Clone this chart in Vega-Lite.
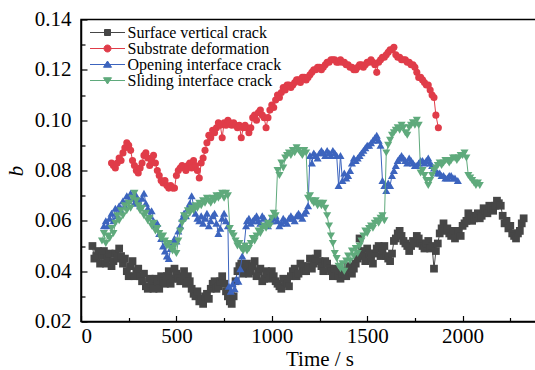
{
  "$schema": "https://vega.github.io/schema/vega-lite/v6.json",
  "autosize": {"type": "none"},
  "padding": {"left": 81, "top": 19.5, "right": 0, "bottom": 48.5},
  "width": 477,
  "height": 302,
  "background": "white",
  "datasets": {
    "surface": [
      {"t":60,"b":0.050},{"t":70,"b":0.045},{"t":80,"b":0.046},{"t":90,"b":0.048},{"t":100,"b":0.043},{"t":110,"b":0.046},{"t":120,"b":0.048},{"t":130,"b":0.043},{"t":140,"b":0.045},{"t":150,"b":0.047},
      {"t":160,"b":0.042},{"t":170,"b":0.044},{"t":180,"b":0.047},{"t":190,"b":0.045},{"t":200,"b":0.049},{"t":210,"b":0.046},{"t":220,"b":0.043},{"t":230,"b":0.045},{"t":240,"b":0.040},{"t":250,"b":0.038},
      {"t":260,"b":0.042},{"t":270,"b":0.044},{"t":280,"b":0.038},{"t":290,"b":0.040},{"t":300,"b":0.041},{"t":310,"b":0.038},{"t":320,"b":0.036},{"t":330,"b":0.039},{"t":340,"b":0.034},{"t":350,"b":0.033},
      {"t":360,"b":0.037},{"t":370,"b":0.035},{"t":380,"b":0.033},{"t":390,"b":0.037},{"t":400,"b":0.036},{"t":410,"b":0.033},{"t":420,"b":0.038},{"t":430,"b":0.036},{"t":440,"b":0.035},{"t":450,"b":0.038},
      {"t":460,"b":0.040},{"t":470,"b":0.035},{"t":480,"b":0.037},{"t":490,"b":0.041},{"t":500,"b":0.039},{"t":510,"b":0.037},{"t":520,"b":0.036},{"t":530,"b":0.038},{"t":540,"b":0.040},{"t":550,"b":0.035},
      {"t":560,"b":0.038},{"t":570,"b":0.036},{"t":580,"b":0.033},{"t":590,"b":0.031},{"t":600,"b":0.030},{"t":610,"b":0.032},{"t":620,"b":0.028},{"t":630,"b":0.029},{"t":640,"b":0.027},{"t":650,"b":0.030},
      {"t":660,"b":0.031},{"t":670,"b":0.029},{"t":680,"b":0.033},{"t":690,"b":0.035},{"t":700,"b":0.036},{"t":710,"b":0.033},{"t":720,"b":0.034},{"t":730,"b":0.036},{"t":740,"b":0.038},{"t":750,"b":0.035},
      {"t":760,"b":0.032},{"t":770,"b":0.030},{"t":780,"b":0.028},{"t":790,"b":0.027},{"t":800,"b":0.030},{"t":810,"b":0.036},{"t":820,"b":0.040},{"t":830,"b":0.042},{"t":840,"b":0.043},{"t":850,"b":0.039},
      {"t":860,"b":0.041},{"t":870,"b":0.043},{"t":880,"b":0.039},{"t":890,"b":0.040},{"t":900,"b":0.042},{"t":910,"b":0.044},{"t":920,"b":0.038},{"t":930,"b":0.040},{"t":940,"b":0.041},{"t":950,"b":0.036},
      {"t":960,"b":0.037},{"t":970,"b":0.040},{"t":980,"b":0.039},{"t":990,"b":0.037},{"t":1000,"b":0.040},{"t":1010,"b":0.038},{"t":1020,"b":0.036},{"t":1030,"b":0.035},{"t":1040,"b":0.034},{"t":1050,"b":0.033},
      {"t":1060,"b":0.037},{"t":1070,"b":0.036},{"t":1080,"b":0.035},{"t":1090,"b":0.034},{"t":1100,"b":0.038},{"t":1110,"b":0.040},{"t":1120,"b":0.041},{"t":1130,"b":0.038},{"t":1140,"b":0.039},{"t":1150,"b":0.043},
      {"t":1160,"b":0.042},{"t":1170,"b":0.040},{"t":1180,"b":0.040},{"t":1190,"b":0.042},{"t":1200,"b":0.045},{"t":1210,"b":0.041},{"t":1220,"b":0.043},{"t":1230,"b":0.045},{"t":1240,"b":0.047},{"t":1250,"b":0.044},
      {"t":1260,"b":0.042},{"t":1270,"b":0.040},{"t":1280,"b":0.044},{"t":1290,"b":0.043},{"t":1300,"b":0.041},{"t":1310,"b":0.040},{"t":1320,"b":0.038},{"t":1330,"b":0.041},{"t":1340,"b":0.040},{"t":1350,"b":0.038},
      {"t":1360,"b":0.037},{"t":1370,"b":0.039},{"t":1380,"b":0.040},{"t":1390,"b":0.038},{"t":1400,"b":0.042},{"t":1410,"b":0.041},{"t":1420,"b":0.039},{"t":1430,"b":0.041},{"t":1440,"b":0.043},{"t":1450,"b":0.045},
      {"t":1460,"b":0.053},{"t":1470,"b":0.048},{"t":1480,"b":0.046},{"t":1490,"b":0.044},{"t":1500,"b":0.049},{"t":1510,"b":0.047},{"t":1520,"b":0.045},{"t":1530,"b":0.043},{"t":1540,"b":0.047},{"t":1550,"b":0.049},
      {"t":1560,"b":0.050},{"t":1570,"b":0.046},{"t":1580,"b":0.048},{"t":1590,"b":0.050},{"t":1600,"b":0.046},{"t":1610,"b":0.045},{"t":1620,"b":0.044},{"t":1630,"b":0.047},{"t":1640,"b":0.052},{"t":1650,"b":0.053},
      {"t":1660,"b":0.055},{"t":1670,"b":0.056},{"t":1680,"b":0.054},{"t":1690,"b":0.052},{"t":1700,"b":0.051},{"t":1710,"b":0.050},{"t":1720,"b":0.048},{"t":1730,"b":0.050},{"t":1740,"b":0.052},{"t":1750,"b":0.051},
      {"t":1760,"b":0.054},{"t":1770,"b":0.053},{"t":1780,"b":0.051},{"t":1790,"b":0.050},{"t":1800,"b":0.049},{"t":1810,"b":0.051},{"t":1820,"b":0.052},{"t":1830,"b":0.049},{"t":1840,"b":0.050},{"t":1850,"b":0.041},
      {"t":1860,"b":0.048},{"t":1870,"b":0.051},{"t":1880,"b":0.055},{"t":1890,"b":0.057},{"t":1900,"b":0.059},{"t":1910,"b":0.056},{"t":1920,"b":0.057},{"t":1930,"b":0.055},{"t":1940,"b":0.054},{"t":1950,"b":0.056},
      {"t":1960,"b":0.053},{"t":1970,"b":0.055},{"t":1980,"b":0.056},{"t":1990,"b":0.054},{"t":2000,"b":0.058},{"t":2010,"b":0.059},{"t":2020,"b":0.060},{"t":2030,"b":0.063},{"t":2040,"b":0.062},{"t":2050,"b":0.060},
      {"t":2060,"b":0.061},{"t":2070,"b":0.062},{"t":2080,"b":0.063},{"t":2090,"b":0.061},{"t":2100,"b":0.062},{"t":2110,"b":0.065},{"t":2120,"b":0.064},{"t":2130,"b":0.063},{"t":2140,"b":0.066},{"t":2150,"b":0.065},
      {"t":2160,"b":0.064},{"t":2170,"b":0.066},{"t":2180,"b":0.068},{"t":2190,"b":0.067},{"t":2200,"b":0.066},{"t":2210,"b":0.062},{"t":2220,"b":0.059},{"t":2230,"b":0.060},{"t":2240,"b":0.057},{"t":2250,"b":0.058},
      {"t":2260,"b":0.055},{"t":2270,"b":0.054},{"t":2280,"b":0.053},{"t":2290,"b":0.055},{"t":2300,"b":0.056},{"t":2310,"b":0.059},{"t":2320,"b":0.061}
    ],
    "substrate": [
      {"t":160,"b":0.083},{"t":170,"b":0.082},{"t":180,"b":0.081},{"t":190,"b":0.083},{"t":200,"b":0.085},{"t":210,"b":0.084},{"t":220,"b":0.087},{"t":230,"b":0.089},{"t":240,"b":0.091},{"t":250,"b":0.090},
      {"t":260,"b":0.088},{"t":270,"b":0.084},{"t":280,"b":0.082},{"t":290,"b":0.080},{"t":300,"b":0.079},{"t":310,"b":0.081},{"t":320,"b":0.083},{"t":330,"b":0.086},{"t":340,"b":0.087},{"t":350,"b":0.085},
      {"t":360,"b":0.082},{"t":370,"b":0.084},{"t":380,"b":0.086},{"t":390,"b":0.083},{"t":400,"b":0.080},{"t":410,"b":0.078},{"t":420,"b":0.076},{"t":430,"b":0.075},{"t":440,"b":0.076},{"t":450,"b":0.074},
      {"t":460,"b":0.073},{"t":470,"b":0.074},{"t":480,"b":0.073},{"t":490,"b":0.073},{"t":500,"b":0.078},{"t":510,"b":0.080},{"t":520,"b":0.081},{"t":530,"b":0.082},{"t":540,"b":0.081},{"t":550,"b":0.080},
      {"t":560,"b":0.082},{"t":570,"b":0.083},{"t":580,"b":0.081},{"t":590,"b":0.084},{"t":600,"b":0.082},{"t":610,"b":0.080},{"t":620,"b":0.077},{"t":630,"b":0.083},{"t":640,"b":0.085},{"t":650,"b":0.088},
      {"t":660,"b":0.091},{"t":670,"b":0.094},{"t":680,"b":0.093},{"t":690,"b":0.096},{"t":700,"b":0.095},{"t":710,"b":0.097},{"t":720,"b":0.099},{"t":730,"b":0.098},{"t":740,"b":0.093},{"t":750,"b":0.099},
      {"t":760,"b":0.098},{"t":770,"b":0.100},{"t":780,"b":0.099},{"t":790,"b":0.098},{"t":800,"b":0.099},{"t":810,"b":0.098},{"t":820,"b":0.097},{"t":830,"b":0.098},{"t":840,"b":0.093},{"t":850,"b":0.097},
      {"t":860,"b":0.098},{"t":870,"b":0.097},{"t":880,"b":0.095},{"t":890,"b":0.097},{"t":900,"b":0.101},{"t":910,"b":0.102},{"t":920,"b":0.100},{"t":930,"b":0.103},{"t":940,"b":0.104},{"t":950,"b":0.102},
      {"t":960,"b":0.101},{"t":970,"b":0.097},{"t":980,"b":0.101},{"t":990,"b":0.104},{"t":1000,"b":0.106},{"t":1010,"b":0.105},{"t":1020,"b":0.108},{"t":1030,"b":0.110},{"t":1040,"b":0.109},{"t":1050,"b":0.111},
      {"t":1060,"b":0.113},{"t":1070,"b":0.112},{"t":1080,"b":0.114},{"t":1090,"b":0.114},{"t":1100,"b":0.113},{"t":1110,"b":0.114},{"t":1120,"b":0.115},{"t":1130,"b":0.116},{"t":1140,"b":0.116},{"t":1150,"b":0.115},
      {"t":1160,"b":0.117},{"t":1170,"b":0.117},{"t":1180,"b":0.116},{"t":1190,"b":0.117},{"t":1200,"b":0.118},{"t":1210,"b":0.119},{"t":1220,"b":0.120},{"t":1230,"b":0.120},{"t":1240,"b":0.121},{"t":1250,"b":0.121},
      {"t":1260,"b":0.120},{"t":1270,"b":0.121},{"t":1280,"b":0.122},{"t":1290,"b":0.123},{"t":1300,"b":0.123},{"t":1310,"b":0.124},{"t":1320,"b":0.124},{"t":1330,"b":0.124},{"t":1340,"b":0.123},{"t":1350,"b":0.123},
      {"t":1360,"b":0.124},{"t":1370,"b":0.123},{"t":1380,"b":0.123},{"t":1390,"b":0.122},{"t":1400,"b":0.122},{"t":1410,"b":0.121},{"t":1420,"b":0.121},{"t":1430,"b":0.120},{"t":1440,"b":0.120},{"t":1450,"b":0.121},
      {"t":1460,"b":0.122},{"t":1470,"b":0.122},{"t":1480,"b":0.121},{"t":1490,"b":0.122},{"t":1500,"b":0.123},{"t":1510,"b":0.123},{"t":1520,"b":0.124},{"t":1530,"b":0.123},{"t":1540,"b":0.122},{"t":1550,"b":0.119},
      {"t":1560,"b":0.123},{"t":1570,"b":0.124},{"t":1580,"b":0.125},{"t":1590,"b":0.125},{"t":1600,"b":0.126},{"t":1610,"b":0.127},{"t":1620,"b":0.128},{"t":1630,"b":0.128},{"t":1640,"b":0.129},{"t":1650,"b":0.126},
      {"t":1660,"b":0.125},{"t":1670,"b":0.125},{"t":1680,"b":0.124},{"t":1690,"b":0.124},{"t":1700,"b":0.124},{"t":1710,"b":0.123},{"t":1720,"b":0.123},{"t":1730,"b":0.122},{"t":1740,"b":0.122},{"t":1750,"b":0.121},
      {"t":1760,"b":0.119},{"t":1770,"b":0.117},{"t":1780,"b":0.117},{"t":1790,"b":0.116},{"t":1800,"b":0.115},{"t":1810,"b":0.114},{"t":1820,"b":0.114},{"t":1830,"b":0.112},{"t":1840,"b":0.110},{"t":1850,"b":0.109},
      {"t":1860,"b":0.102},{"t":1873,"b":0.097}
    ],
    "opening": [
      {"t":120,"b":0.058},{"t":130,"b":0.060},{"t":140,"b":0.058},{"t":150,"b":0.061},{"t":160,"b":0.063},{"t":170,"b":0.060},{"t":180,"b":0.065},{"t":190,"b":0.062},{"t":200,"b":0.066},{"t":210,"b":0.064},
      {"t":220,"b":0.068},{"t":230,"b":0.066},{"t":240,"b":0.070},{"t":250,"b":0.068},{"t":260,"b":0.071},{"t":270,"b":0.069},{"t":280,"b":0.067},{"t":290,"b":0.070},{"t":300,"b":0.068},{"t":310,"b":0.066},
      {"t":320,"b":0.069},{"t":330,"b":0.071},{"t":340,"b":0.067},{"t":350,"b":0.065},{"t":360,"b":0.062},{"t":370,"b":0.064},{"t":380,"b":0.060},{"t":390,"b":0.058},{"t":400,"b":0.059},{"t":410,"b":0.055},
      {"t":420,"b":0.053},{"t":430,"b":0.050},{"t":440,"b":0.048},{"t":450,"b":0.046},{"t":460,"b":0.045},{"t":470,"b":0.049},{"t":480,"b":0.051},{"t":490,"b":0.053},{"t":500,"b":0.052},{"t":510,"b":0.056},
      {"t":520,"b":0.058},{"t":530,"b":0.061},{"t":540,"b":0.063},{"t":550,"b":0.062},{"t":560,"b":0.065},{"t":570,"b":0.067},{"t":580,"b":0.070},{"t":590,"b":0.066},{"t":600,"b":0.063},{"t":610,"b":0.061},
      {"t":620,"b":0.060},{"t":630,"b":0.062},{"t":640,"b":0.059},{"t":650,"b":0.061},{"t":660,"b":0.063},{"t":670,"b":0.058},{"t":680,"b":0.060},{"t":690,"b":0.062},{"t":700,"b":0.063},{"t":710,"b":0.059},
      {"t":720,"b":0.055},{"t":730,"b":0.057},{"t":740,"b":0.061},{"t":750,"b":0.063},{"t":760,"b":0.060},{"t":770,"b":0.058},{"t":775,"b":0.034},{"t":785,"b":0.032},{"t":795,"b":0.035},{"t":805,"b":0.033},
      {"t":815,"b":0.037},{"t":825,"b":0.036},{"t":835,"b":0.041},{"t":845,"b":0.046},{"t":855,"b":0.050},{"t":865,"b":0.058},{"t":870,"b":0.060},{"t":880,"b":0.061},{"t":890,"b":0.059},{"t":900,"b":0.060},
      {"t":910,"b":0.061},{"t":920,"b":0.062},{"t":930,"b":0.060},{"t":940,"b":0.059},{"t":950,"b":0.062},{"t":960,"b":0.061},{"t":970,"b":0.059},{"t":980,"b":0.058},{"t":990,"b":0.060},{"t":1000,"b":0.060},
      {"t":1010,"b":0.061},{"t":1020,"b":0.062},{"t":1030,"b":0.060},{"t":1040,"b":0.058},{"t":1050,"b":0.059},{"t":1060,"b":0.061},{"t":1070,"b":0.060},{"t":1080,"b":0.059},{"t":1090,"b":0.061},{"t":1100,"b":0.062},
      {"t":1110,"b":0.061},{"t":1120,"b":0.060},{"t":1130,"b":0.062},{"t":1140,"b":0.063},{"t":1150,"b":0.062},{"t":1160,"b":0.061},{"t":1170,"b":0.063},{"t":1180,"b":0.064},{"t":1190,"b":0.066},{"t":1200,"b":0.086},
      {"t":1210,"b":0.083},{"t":1220,"b":0.087},{"t":1230,"b":0.086},{"t":1240,"b":0.085},{"t":1250,"b":0.087},{"t":1260,"b":0.088},{"t":1270,"b":0.087},{"t":1280,"b":0.086},{"t":1290,"b":0.088},{"t":1300,"b":0.087},
      {"t":1310,"b":0.086},{"t":1320,"b":0.088},{"t":1330,"b":0.087},{"t":1340,"b":0.086},{"t":1350,"b":0.074},{"t":1360,"b":0.086},{"t":1370,"b":0.076},{"t":1380,"b":0.079},{"t":1390,"b":0.077},{"t":1400,"b":0.078},
      {"t":1410,"b":0.080},{"t":1420,"b":0.083},{"t":1430,"b":0.085},{"t":1440,"b":0.084},{"t":1450,"b":0.085},{"t":1460,"b":0.086},{"t":1470,"b":0.087},{"t":1480,"b":0.088},{"t":1490,"b":0.089},{"t":1500,"b":0.090},
      {"t":1510,"b":0.090},{"t":1520,"b":0.091},{"t":1530,"b":0.092},{"t":1540,"b":0.093},{"t":1550,"b":0.094},{"t":1560,"b":0.092},{"t":1570,"b":0.090},{"t":1580,"b":0.076},{"t":1590,"b":0.074},{"t":1600,"b":0.072},
      {"t":1610,"b":0.075},{"t":1620,"b":0.074},{"t":1630,"b":0.078},{"t":1640,"b":0.080},{"t":1650,"b":0.082},{"t":1660,"b":0.084},{"t":1670,"b":0.085},{"t":1680,"b":0.086},{"t":1690,"b":0.085},{"t":1700,"b":0.084},
      {"t":1710,"b":0.083},{"t":1720,"b":0.085},{"t":1730,"b":0.084},{"t":1740,"b":0.083},{"t":1750,"b":0.082},{"t":1760,"b":0.082},{"t":1770,"b":0.083},{"t":1780,"b":0.084},{"t":1790,"b":0.084},{"t":1800,"b":0.083},
      {"t":1810,"b":0.084},{"t":1820,"b":0.085},{"t":1830,"b":0.083},{"t":1840,"b":0.082},{"t":1850,"b":0.081},{"t":1860,"b":0.080},{"t":1870,"b":0.079},{"t":1880,"b":0.079},{"t":1890,"b":0.078},{"t":1900,"b":0.078},
      {"t":1910,"b":0.077},{"t":1920,"b":0.077},{"t":1930,"b":0.078},{"t":1940,"b":0.078},{"t":1950,"b":0.077},{"t":1960,"b":0.077},{"t":1975,"b":0.076}
    ],
    "sliding": [
      {"t":110,"b":0.052},{"t":120,"b":0.055},{"t":130,"b":0.051},{"t":140,"b":0.054},{"t":150,"b":0.053},{"t":160,"b":0.057},{"t":170,"b":0.055},{"t":180,"b":0.059},{"t":190,"b":0.062},{"t":200,"b":0.060},
      {"t":210,"b":0.064},{"t":220,"b":0.062},{"t":230,"b":0.066},{"t":240,"b":0.064},{"t":250,"b":0.067},{"t":260,"b":0.065},{"t":270,"b":0.069},{"t":280,"b":0.071},{"t":290,"b":0.068},{"t":300,"b":0.066},
      {"t":310,"b":0.064},{"t":320,"b":0.065},{"t":330,"b":0.062},{"t":340,"b":0.063},{"t":350,"b":0.060},{"t":360,"b":0.061},{"t":370,"b":0.058},{"t":380,"b":0.059},{"t":390,"b":0.056},{"t":400,"b":0.057},
      {"t":410,"b":0.055},{"t":420,"b":0.053},{"t":430,"b":0.054},{"t":440,"b":0.052},{"t":450,"b":0.050},{"t":460,"b":0.051},{"t":470,"b":0.049},{"t":480,"b":0.048},{"t":490,"b":0.050},{"t":500,"b":0.047},
      {"t":510,"b":0.052},{"t":520,"b":0.056},{"t":530,"b":0.059},{"t":540,"b":0.062},{"t":550,"b":0.061},{"t":560,"b":0.064},{"t":570,"b":0.063},{"t":580,"b":0.065},{"t":590,"b":0.064},{"t":600,"b":0.066},
      {"t":610,"b":0.065},{"t":620,"b":0.067},{"t":630,"b":0.066},{"t":640,"b":0.068},{"t":650,"b":0.067},{"t":660,"b":0.069},{"t":670,"b":0.068},{"t":680,"b":0.067},{"t":690,"b":0.069},{"t":700,"b":0.068},
      {"t":710,"b":0.070},{"t":720,"b":0.069},{"t":730,"b":0.070},{"t":740,"b":0.071},{"t":750,"b":0.069},{"t":760,"b":0.071},{"t":770,"b":0.070},{"t":780,"b":0.057},{"t":790,"b":0.055},{"t":800,"b":0.054},
      {"t":810,"b":0.052},{"t":820,"b":0.050},{"t":830,"b":0.051},{"t":840,"b":0.049},{"t":850,"b":0.048},{"t":860,"b":0.050},{"t":870,"b":0.048},{"t":880,"b":0.049},{"t":890,"b":0.051},{"t":900,"b":0.053},
      {"t":910,"b":0.052},{"t":920,"b":0.054},{"t":930,"b":0.056},{"t":940,"b":0.055},{"t":950,"b":0.057},{"t":960,"b":0.058},{"t":970,"b":0.057},{"t":980,"b":0.059},{"t":990,"b":0.058},{"t":1000,"b":0.061},
      {"t":1010,"b":0.063},{"t":1020,"b":0.062},{"t":1030,"b":0.080},{"t":1040,"b":0.078},{"t":1050,"b":0.083},{"t":1060,"b":0.081},{"t":1070,"b":0.085},{"t":1080,"b":0.086},{"t":1090,"b":0.087},{"t":1100,"b":0.086},
      {"t":1110,"b":0.088},{"t":1120,"b":0.087},{"t":1130,"b":0.089},{"t":1140,"b":0.088},{"t":1150,"b":0.087},{"t":1160,"b":0.086},{"t":1170,"b":0.088},{"t":1180,"b":0.087},{"t":1190,"b":0.069},{"t":1200,"b":0.070},
      {"t":1210,"b":0.068},{"t":1220,"b":0.067},{"t":1230,"b":0.068},{"t":1240,"b":0.066},{"t":1250,"b":0.067},{"t":1260,"b":0.066},{"t":1270,"b":0.067},{"t":1280,"b":0.065},{"t":1290,"b":0.062},{"t":1300,"b":0.058},
      {"t":1310,"b":0.054},{"t":1320,"b":0.051},{"t":1330,"b":0.047},{"t":1340,"b":0.045},{"t":1350,"b":0.042},{"t":1360,"b":0.041},{"t":1370,"b":0.043},{"t":1380,"b":0.040},{"t":1390,"b":0.044},{"t":1400,"b":0.046},
      {"t":1410,"b":0.044},{"t":1420,"b":0.048},{"t":1430,"b":0.046},{"t":1440,"b":0.049},{"t":1450,"b":0.047},{"t":1460,"b":0.050},{"t":1470,"b":0.052},{"t":1480,"b":0.054},{"t":1490,"b":0.056},{"t":1500,"b":0.055},
      {"t":1510,"b":0.057},{"t":1520,"b":0.058},{"t":1530,"b":0.057},{"t":1540,"b":0.059},{"t":1550,"b":0.060},{"t":1560,"b":0.059},{"t":1570,"b":0.061},{"t":1580,"b":0.062},{"t":1590,"b":0.060},{"t":1600,"b":0.087},
      {"t":1610,"b":0.090},{"t":1620,"b":0.092},{"t":1630,"b":0.094},{"t":1640,"b":0.095},{"t":1650,"b":0.096},{"t":1660,"b":0.097},{"t":1670,"b":0.096},{"t":1680,"b":0.098},{"t":1690,"b":0.097},{"t":1700,"b":0.095},
      {"t":1710,"b":0.094},{"t":1720,"b":0.097},{"t":1730,"b":0.098},{"t":1740,"b":0.099},{"t":1750,"b":0.098},{"t":1760,"b":0.100},{"t":1770,"b":0.098},{"t":1780,"b":0.079},{"t":1790,"b":0.080},{"t":1800,"b":0.078},
      {"t":1810,"b":0.076},{"t":1820,"b":0.074},{"t":1830,"b":0.076},{"t":1840,"b":0.078},{"t":1850,"b":0.080},{"t":1860,"b":0.081},{"t":1870,"b":0.082},{"t":1880,"b":0.083},{"t":1890,"b":0.082},{"t":1900,"b":0.083},
      {"t":1910,"b":0.084},{"t":1920,"b":0.084},{"t":1930,"b":0.083},{"t":1940,"b":0.084},{"t":1950,"b":0.085},{"t":1960,"b":0.085},{"t":1970,"b":0.084},{"t":1980,"b":0.085},{"t":1990,"b":0.086},{"t":2000,"b":0.086},
      {"t":2010,"b":0.087},{"t":2020,"b":0.085},{"t":2030,"b":0.078},{"t":2040,"b":0.077},{"t":2050,"b":0.076},{"t":2060,"b":0.075},{"t":2070,"b":0.074},{"t":2080,"b":0.075},{"t":2090,"b":0.074}
    ]
  },
  "encoding": {
    "x": {
      "field": "t", "type": "quantitative",
      "scale": {"domain": [0, 2500], "nice": false, "zero": false},
      "axis": {
        "title": "Time / s",
        "values": [0, 250, 500, 750, 1000, 1250, 1500, 1750, 2000, 2250],
        "format": "d",
        "labelExpr": "datum.value % 500 === 0 ? datum.label : ''",
        "tickSize": {"condition": {"test": "datum.value % 500 === 0", "value": -6}, "value": -4},
        "labelPadding": 10,
        "titlePadding": 2
      }
    },
    "y": {
      "field": "b", "type": "quantitative",
      "scale": {"domain": [0.02, 0.14], "nice": false, "zero": false},
      "axis": {
        "title": "b",
        "titleFontStyle": "italic",
        "values": [0.02, 0.03, 0.04, 0.05, 0.06, 0.07, 0.08, 0.09, 0.1, 0.11, 0.12, 0.13, 0.14],
        "format": ".2f",
        "labelExpr": "round(datum.value * 100) % 2 === 0 ? datum.label : ''",
        "tickSize": {"condition": {"test": "round(datum.value * 100) % 2 === 0", "value": -6}, "value": -4},
        "labelPadding": 16,
        "titlePadding": 8
      }
    },
    "color": {
      "scale": {
        "domain": ["Surface vertical crack", "Substrate deformation", "Opening interface crack", "Sliding interface crack"],
        "range": ["#464646", "#e03c49", "#3c64be", "#5faa7c"]
      },
      "legend": {
        "orient": "none",
        "legendX": 18.5,
        "legendY": 5,
        "title": null,
        "padding": 0,
        "symbolSize": 100,
        "symbolStrokeWidth": 1,
        "labelFont": "Liberation Serif",
        "labelFontSize": 16,
        "labelColor": "black",
        "labelOffset": 12,
        "rowPadding": 0,
        "encode": {
          "symbols": {
            "update": {
              "shape": {"signal": "datum.value === 'Surface vertical crack' ? 'M-3.5,0H3.5M-0.6,-0.6H0.6V0.6H-0.6Z' : datum.value === 'Substrate deformation' ? 'M-3.5,0H3.5M0.7,0A0.7,0.7,0,1,1,-0.7,0A0.7,0.7,0,1,1,0.7,0Z' : datum.value === 'Opening interface crack' ? 'M-3.5,0H3.5M0,-0.7L0.8,0.55H-0.8Z' : 'M-3.5,0H3.5M0,0.7L0.8,-0.55H-0.8Z'"},
              "fill": {"scale": "color", "field": "value"},
              "stroke": {"scale": "color", "field": "value"},
              "size": {"value": 100},
              "strokeWidth": {"value": 1},
              "opacity": {"value": 1}
            }
          }
        }
      }
    }
  },
  "layer": [
    {
      "data": {"name": "surface"},
      "encoding": {"color": {"datum": "Surface vertical crack"}},
      "layer": [
        {"mark": {"type": "line", "strokeWidth": 1}, "encoding": {}},
        {"mark": {"type": "point", "shape": "square", "filled": true, "opacity": 1, "size": 60}}
      ]
    },
    {
      "data": {"name": "substrate"},
      "encoding": {"color": {"datum": "Substrate deformation"}},
      "layer": [
        {"mark": {"type": "line", "strokeWidth": 1}, "encoding": {}},
        {"mark": {"type": "point", "shape": "circle", "filled": true, "opacity": 1, "size": 50}}
      ]
    },
    {
      "data": {"name": "opening"},
      "encoding": {"color": {"datum": "Opening interface crack"}},
      "layer": [
        {"mark": {"type": "line", "strokeWidth": 1}, "encoding": {}},
        {"mark": {"type": "point", "shape": "triangle-up", "filled": true, "opacity": 1, "size": 65}}
      ]
    },
    {
      "data": {"name": "sliding"},
      "encoding": {"color": {"datum": "Sliding interface crack"}},
      "layer": [
        {"mark": {"type": "line", "strokeWidth": 1}, "encoding": {}},
        {"mark": {"type": "point", "shape": "triangle-down", "filled": true, "opacity": 1, "size": 65}}
      ]
    }
  ],
  "config": {
    "view": {"stroke": "black", "strokeWidth": 1.5},
    "axis": {
      "grid": false,
      "domainColor": "black",
      "domainWidth": 1.5,
      "tickColor": "black",
      "tickWidth": 1.2,
      "labelFont": "Liberation Serif",
      "labelFontSize": 21,
      "labelColor": "black",
      "titleFont": "Liberation Serif",
      "titleFontSize": 21,
      "titleFontWeight": "normal",
      "titleColor": "black"
    }
  }
}
